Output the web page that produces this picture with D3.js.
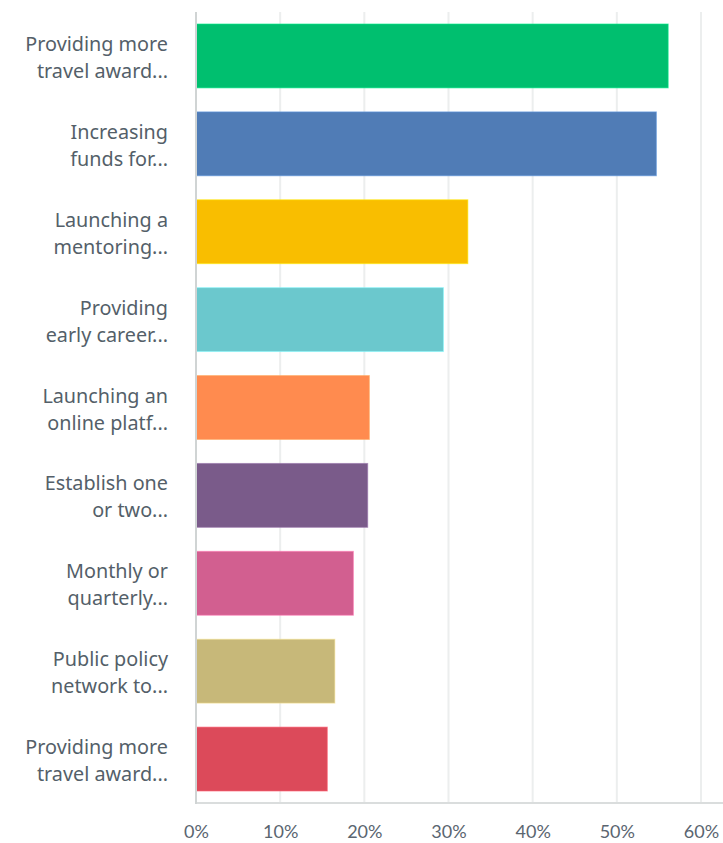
<!DOCTYPE html>
<html>
<head>
<meta charset="utf-8">
<script src="https://cdn.jsdelivr.net/npm/d3@7"></script>
<style>
  html, body { margin: 0; padding: 0; background: #ffffff; }
  svg { display: block; }
</style>
</head>
<body>
<svg id="chart" width="723" height="843"></svg>
<script>
// Survey answer choices (each label wraps onto two lines)
const categories = [
  ["Providing more", "travel award..."],
  ["Increasing", "funds for..."],
  ["Launching a", "mentoring..."],
  ["Providing", "early career..."],
  ["Launching an", "online platf..."],
  ["Establish one", "or two..."],
  ["Monthly or", "quarterly..."],
  ["Public policy", "network to..."],
  ["Providing more", "travel award..."]
];
// Share of respondents, in percent
const values = [56.1, 54.7, 32.3, 29.4, 20.6, 20.4, 18.7, 16.5, 15.6];
const barColors = ["#00BF6F", "#507CB6", "#F9BE00", "#6BC8CD", "#FF8B4F",
                   "#7A5B8A", "#D25F90", "#C7B879", "#DC4A5A"];
const tickValues = [0, 10, 20, 30, 40, 50, 60];

const svg = d3.select("#chart");
const plotLeft = 196, plotRight = 701, plotTop = 12, plotBottom = 803;

const x = d3.scaleLinear().domain([0, 60]).range([plotLeft, plotRight]);
const y = d3.scaleBand()
  .domain(d3.range(categories.length))
  .range([plotTop, plotBottom])
  .paddingInner(0.273)
  .paddingOuter(0.1365);

// vertical gridlines
svg.append("g")
  .selectAll("line")
  .data(tickValues.slice(1))
  .join("line")
  .attr("x1", d => x(d)).attr("x2", d => x(d))
  .attr("y1", plotTop).attr("y2", plotBottom)
  .attr("stroke", "#eceeee")
  .attr("stroke-width", 2);

// bars
svg.append("g")
  .selectAll("rect")
  .data(values)
  .join("rect")
  .attr("x", x(0))
  .attr("y", (d, i) => y(i))
  .attr("width", d => x(d) - x(0))
  .attr("height", y.bandwidth())
  .attr("fill", (d, i) => barColors[i])
  .attr("stroke", (d, i) => d3.color(barColors[i]).brighter(0.6))
  .attr("stroke-opacity", 0.6)
  .attr("stroke-width", 1);

// horizontal axis with percent ticks
const xAxis = d3.axisBottom(x)
  .tickValues(tickValues)
  .tickFormat(d => d + "%")
  .tickSize(0)
  .tickPadding(22);

const gx = svg.append("g")
  .attr("transform", `translate(0,${plotBottom})`)
  .call(xAxis);
gx.select(".domain")
  .attr("stroke", "#dadddd")
  .attr("stroke-width", 2)
  .attr("d", `M${plotLeft - 1},0H${plotRight + 22}`);
gx.selectAll("text")
  .attr("fill", "#5a6570")
  .attr("font-family", "Lato, 'Open Sans', sans-serif")
  .attr("font-size", 18);

// vertical baseline at 0%
svg.append("line")
  .attr("x1", plotLeft).attr("x2", plotLeft)
  .attr("y1", plotTop).attr("y2", plotBottom + 1)
  .attr("stroke", "#d0d4d4")
  .attr("stroke-width", 2);

// category labels
const gy = svg.append("g");
categories.forEach((lines, i) => {
  const cy = y(i) + y.bandwidth() / 2;
  const t = gy.append("text")
    .attr("text-anchor", "end")
    .attr("font-family", "'Noto Sans', 'Open Sans', sans-serif")
    .attr("font-size", 19.8)
    .attr("fill", "#545f69");
  lines.forEach((ln, j) => {
    t.append("tspan")
      .attr("x", 168)
      .attr("y", cy + (j === 0 ? -5 : 22))
      .text(ln);
  });
});
</script>
</body>
</html>
